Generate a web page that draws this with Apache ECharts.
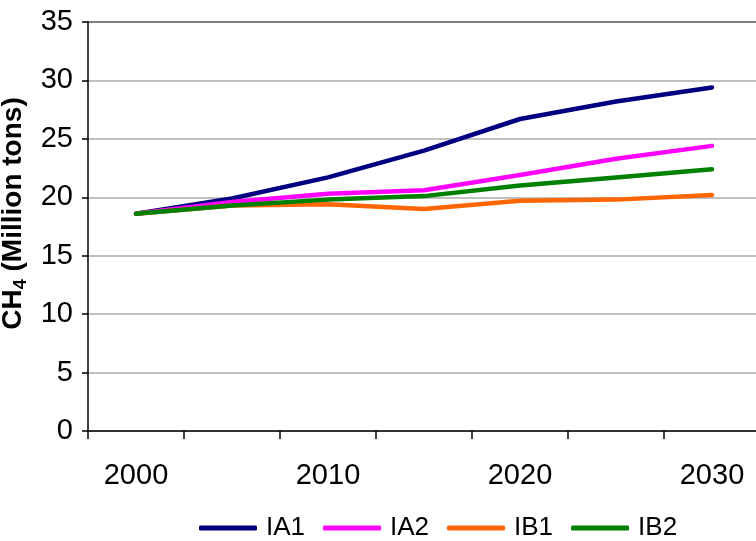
<!DOCTYPE html>
<html>
<head>
<meta charset="utf-8">
<script src="https://cdn.jsdelivr.net/npm/echarts@6/dist/echarts.min.js"></script>
<style>
  html, body { margin: 0; padding: 0; background: #fff; }
  #chart { width: 756px; height: 541px; }
</style>
</head>
<body>
<div id="chart"></div>
<script>
// Methane emissions by scenario, 2000-2030
const years = ['2000', '2005', '2010', '2015', '2020', '2025', '2030'];
const ia1 = [18.6, 19.9, 21.7, 24.0, 26.7, 28.2, 29.4];
const ia2 = [18.6, 19.6, 20.3, 20.6, 21.9, 23.3, 24.4];
const ib1 = [18.6, 19.3, 19.4, 19.0, 19.7, 19.8, 20.2];
const ib2 = [18.6, 19.3, 19.8, 20.1, 21.0, 21.7, 22.4];
const yTicks = { min: 0, max: 35, step: 5 };

const font = '"Liberation Sans", Arial, sans-serif';

function lineSeries(name, data, color) {
  return {
    name: name,
    type: 'line',
    data: data,
    symbol: 'none',
    lineStyle: { color: color, width: 4.5, cap: 'round', join: 'round' },
    itemStyle: { color: color },
    emphasis: { disabled: true }
  };
}

const chart = echarts.init(document.getElementById('chart'), null, { renderer: 'canvas' });
chart.setOption({
  animation: false,
  backgroundColor: '#ffffff',
  grid: { left: 88, right: -4, top: 22, bottom: 110, containLabel: false, outerBoundsMode: 'none' },
  legend: {
    bottom: -5,
    left: 194,
    icon: 'roundRect',
    itemWidth: 58,
    itemHeight: 5,
    itemGap: 18,
    textStyle: { fontFamily: font, fontSize: 26, color: '#000', padding: [0, 0, 0, 4] },
    data: ['IA1', 'IA2', 'IB1', 'IB2']
  },
  xAxis: {
    type: 'category',
    data: years,
    boundaryGap: true,
    axisLine: { show: true, lineStyle: { color: '#000', width: 1.5 } },
    axisTick: { show: true, interval: 0, length: 8, inside: false, lineStyle: { color: '#000', width: 1.5 } },
    axisLabel: { interval: 1, margin: 30, fontFamily: font, fontSize: 29, color: '#000' },
    splitLine: { show: false }
  },
  yAxis: {
    type: 'value',
    min: yTicks.min,
    max: yTicks.max,
    interval: yTicks.step,
    name: '{b|CH}{s|4}{b| (Million tons)}',
    nameLocation: 'middle',
    nameGap: 56,
    nameRotate: 90,
    nameTextStyle: {
      padding: [0, 0, 0, 26],
      rich: {
        b: { fontFamily: font, fontSize: 28, fontWeight: 'bold', color: '#000', lineHeight: 34 },
        s: { fontFamily: font, fontSize: 18, fontWeight: 'bold', color: '#000', verticalAlign: 'bottom', lineHeight: 34, padding: [12, 0, 0, 0] }
      }
    },
    axisLine: { show: true, lineStyle: { color: '#000', width: 1.5 } },
    axisTick: { show: true, length: 6, lineStyle: { color: '#000', width: 1.5 } },
    axisLabel: { margin: 15, fontFamily: font, fontSize: 29, color: '#000' },
    splitLine: {
      show: true,
      lineStyle: {
        color: ['#c0c0c0', '#c0c0c0', '#c0c0c0', '#c0c0c0', '#c0c0c0', '#c0c0c0', '#c0c0c0', '#808080'],
        width: 2
      }
    }
  },
  series: [
    lineSeries('IA1', ia1, '#000080'),
    lineSeries('IA2', ia2, '#ff00ff'),
    lineSeries('IB1', ib1, '#ff6600'),
    lineSeries('IB2', ib2, '#008000')
  ]
});
</script>
</body>
</html>
